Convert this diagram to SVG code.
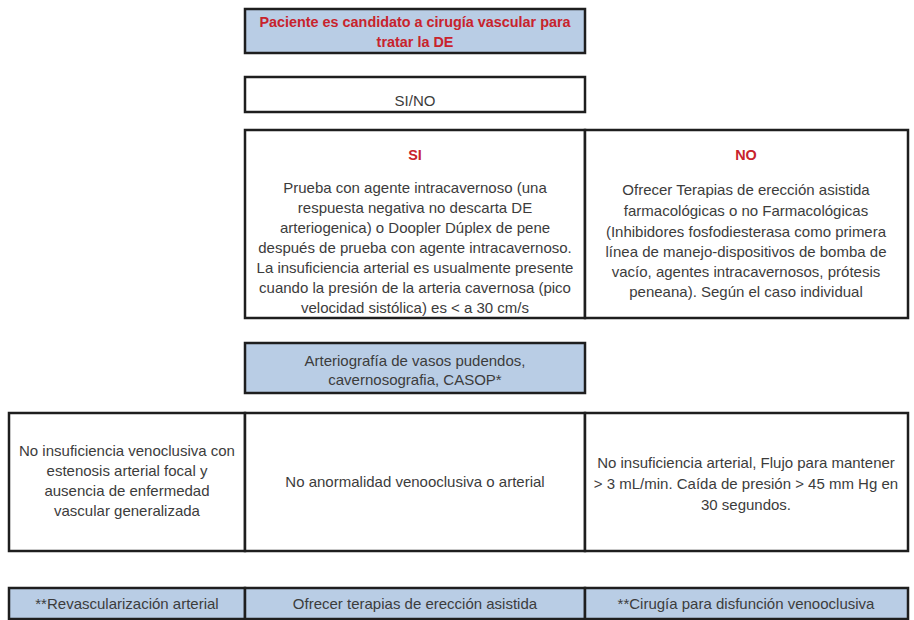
<svg xmlns="http://www.w3.org/2000/svg" width="914" height="620" viewBox="0 0 914 620">
<style>
.box{stroke:#1e1e1e;stroke-width:2.5;fill:#fff}
.blue{fill:#b9cde5}
text{font-family:"Liberation Sans",Arial,sans-serif;font-size:15px;fill:#3c3c3c;text-anchor:middle}
.red{fill:#c8232c;font-weight:bold;font-size:14.4px}
</style>
<rect width="914" height="620" fill="#fff"/>
<g id="n1">
<rect class="box blue" x="245" y="9" width="340" height="44"/>
<text class="red" x="415" y="27">Paciente es candidato a cirugía vascular para</text>
<text class="red" x="415" y="47">tratar la DE</text>
</g>
<g id="n2">
<rect class="box" x="245" y="77" width="340" height="35"/>
<text x="415" y="106">SI/NO</text>
</g>
<g id="n3">
<rect class="box" x="245" y="130" width="340" height="188"/>
<text class="red" x="415" y="160">SI</text>
<text x="415" y="193">Prueba con agente intracavernoso (una</text>
<text x="415" y="213">respuesta negativa no descarta DE</text>
<text x="415" y="233">arteriogenica) o Doopler Dúplex de pene</text>
<text x="415" y="253">después de prueba con agente intracavernoso.</text>
<text x="415" y="273">La insuficiencia arterial es usualmente presente</text>
<text x="415" y="293">cuando la presión de la arteria cavernosa (pico</text>
<text x="415" y="313">velocidad sistólica) es &lt; a 30 cm/s</text>
</g>
<g id="n4">
<rect class="box" x="585" y="130" width="323" height="188"/>
<text class="red" x="746" y="160">NO</text>
<text x="746" y="195">Ofrecer Terapias de erección asistida</text>
<text x="746" y="216">farmacológicas o no Farmacológicas</text>
<text x="746" y="237">(Inhibidores fosfodiesterasa como primera</text>
<text x="746" y="257">línea de manejo-dispositivos de bomba de</text>
<text x="746" y="277">vacío, agentes intracavernosos, prótesis</text>
<text x="746" y="297">peneana). Según el caso individual</text>
</g>
<g id="n5">
<rect class="box blue" x="245" y="343" width="340" height="50"/>
<text x="415" y="366">Arteriografía de vasos pudendos,</text>
<text x="415" y="385">cavernosografia, CASOP*</text>
</g>
<g id="n6">
<rect class="box" x="9" y="413" width="236" height="138"/>
<text x="127" y="456">No insuficiencia venoclusiva con</text>
<text x="127" y="476">estenosis arterial focal y</text>
<text x="127" y="496">ausencia de enfermedad</text>
<text x="127" y="516">vascular generalizada</text>
</g>
<g id="n7">
<rect class="box" x="245" y="413" width="340" height="138"/>
<text x="415" y="487">No anormalidad venooclusiva o arterial</text>
</g>
<g id="n8">
<rect class="box" x="585" y="413" width="323" height="138"/>
<text x="746" y="468">No insuficiencia arterial, Flujo para mantener</text>
<text x="746" y="489">&gt; 3 mL/min. Caída de presión &gt; 45 mm Hg en</text>
<text x="746" y="510">30 segundos.</text>
</g>
<g id="n9">
<rect class="box blue" x="9" y="588" width="236" height="31"/>
<text x="127" y="609">**Revascularización arterial</text>
</g>
<g id="n10">
<rect class="box blue" x="245" y="588" width="340" height="31"/>
<text x="415" y="609">Ofrecer terapias de erección asistida</text>
</g>
<g id="n11">
<rect class="box blue" x="585" y="588" width="323" height="31"/>
<text x="746" y="609">**Cirugía para disfunción venooclusiva</text>
</g>
<g id="connectors"></g>
</svg>
